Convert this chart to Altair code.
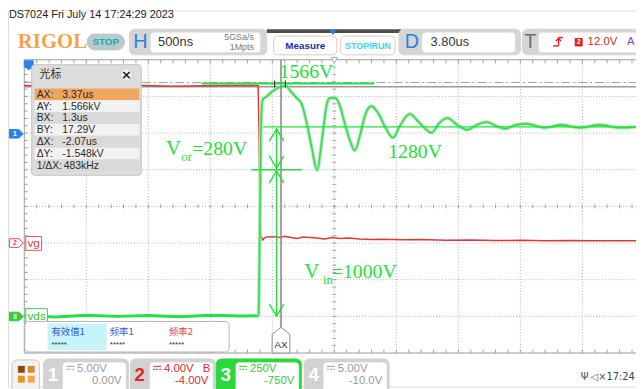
import altair as alt
import pandas as pd

# ---------------- scope settings ----------------
TIME_DIV_US = 0.5        # 500 ns/div
DELAY_US = 3.80          # time at screen centre
CH3_V_DIV = 250.0        # vds  250 V/div
CH3_OFFSET_V = -750.0
CH2_V_DIV = 4.0          # vg   4 V/div
CH2_OFFSET_V = -4.0
CURSOR_AX_US = 3.37
CURSOR_AY_V = 1566.0

# ---------------- traces (time in us, volts) ----------------
vds_t = [1.30, 1.55, 1.80, 2.05, 2.30, 2.55, 2.80, 3.05, 3.19,
         3.199, 3.207, 3.215, 3.223, 3.255, 3.302, 3.358, 3.414, 3.438,
         3.494, 3.534, 3.574, 3.615, 3.662, 3.701, 3.741, 3.765, 3.813,
         3.845, 3.892, 3.932, 3.964, 4.012, 4.051, 4.099, 4.154, 4.209,
         4.273, 4.328, 4.408, 4.487, 4.584, 4.648, 4.711, 4.791, 4.871,
         4.950, 5.030, 5.102, 5.181, 5.261, 5.349, 5.500, 5.627, 5.780,
         5.939, 6.101, 6.236]
vds_v = [5, -4, 8, 0, 6, -2, 7, 2, 4,
         600, 1200, 1430, 1480, 1500, 1535, 1562, 1569, 1545,
         1490, 1454, 1330, 1165, 997, 1212, 1454, 1490, 1488,
         1434, 1292, 1185, 1131, 1252, 1380, 1434, 1385, 1292,
         1218, 1299, 1380, 1320, 1252, 1320, 1353, 1306, 1272,
         1306, 1326, 1299, 1279, 1306, 1313, 1286, 1306, 1286,
         1306, 1286, 1292]
vg_t = [1.30, 1.70, 2.10, 2.50, 2.90, 3.185, 3.193, 3.199, 3.207, 3.223,
        3.24, 3.27, 3.30, 3.33, 3.36, 3.40, 3.45, 3.50, 3.55, 3.60,
        3.66, 3.72, 3.78, 3.85, 3.92, 4.00, 4.10, 4.20, 4.35, 4.50,
        4.70, 4.90, 5.10, 5.30, 5.50, 5.70, 5.90, 6.10, 6.24]
vg_v = [17.2, 17.1, 17.25, 17.1, 17.2, 17.2, 12.0, 4.0, 0.8, 0.35,
        0.6, 0.7, 0.65, 0.7, 0.6, 0.75, 0.6, 0.5, 0.65, 0.6,
        0.55, 0.45, 0.6, 0.5, 0.55, 0.45, 0.4, 0.42, 0.35, 0.38,
        0.3, 0.33, 0.28, 0.3, 0.25, 0.28, 0.25, 0.26, 0.25]

# annotation segments (t1 us, V1, t2 us, V2, width) on the vds scale
ann_segments = [
    (2.737, 1588, 4.114, 1588, 2.2),
    (3.231, 1292, 6.40, 1292, 1.4),
    (3.135, 1000, 3.534, 1000, 1.4),
    (3.334, 1279, 3.334, 1010, 1.4),
    (3.278, 1198, 3.334, 1279, 1.4), (3.334, 1279, 3.390, 1198, 1.4),
    (3.278, 1091, 3.334, 1010, 1.4), (3.334, 1010, 3.390, 1091, 1.4),
    (3.334, 993, 3.334, 0, 1.4),
    (3.278, 912, 3.334, 993, 1.4), (3.334, 993, 3.390, 912, 1.4),
    (3.278, 81, 3.334, 0, 1.4), (3.334, 0, 3.390, 81, 1.4),
]

CURSOR_LABELS = ["AX:", "AY:", "BX:", "BY:", "ΔX:", "ΔY:", "1/ΔX:"]
CURSOR_VALUES = ["3.37us", "1.566kV", "1.3us", "17.29V", "-2.07us", "-1.548kV", "483kHz"]
MEAS_NAMES = ["有效值1", "频率1", "频率2"]
MEAS_VALUES = ["*****", "*****", "*****"]
CH_NAMES = ["1", "2", "3", "4"]
CH_SCALE = ["5.00V", "4.00V", "250V", "5.00V"]
CH_OFFSET = ["0.00V", "-4.00V", "-750V", "-10.0V"]

# ---------------- layout ----------------
SANS = "Liberation Sans"
SERIF = "Liberation Serif"
CJK = "Noto Sans CJK SC"
GRID_X0, DIV_W = 24.5, 62.8
GRID_TOP, DIV_H = 58.0, 37.125
GRID_BOTTOM = GRID_TOP + 8 * DIV_H
SCREEN_R = 644
XC = GRID_X0 + 5 * DIV_W
YC = GRID_TOP + 4 * DIV_H
GREEN = "#22e03a"

XS = alt.Scale(domain=[8, 644], nice=False, zero=False)
YS = alt.Scale(domain=[8, 389], nice=False, zero=False, reverse=True)


def X(f):
    return alt.X(f"{f}:Q", scale=XS, axis=None)


def Y(f):
    return alt.Y(f"{f}:Q", scale=YS, axis=None)


def x_expr(f):
    return f"{XC} + (datum.{f} - {DELAY_US}) / {TIME_DIV_US} * {DIV_W}"


def y3_expr(f):
    return f"{YC} - (datum.{f} + {CH3_OFFSET_V}) / {CH3_V_DIV} * {DIV_H}"


def y2_expr(f):
    return f"{YC} - (datum.{f} + {CH2_OFFSET_V}) / {CH2_V_DIV} * {DIV_H}"


def rect_layer(rows, radius=0, sw=1):
    df = pd.DataFrame(rows, columns=["x", "x2", "y", "y2", "fill", "stroke"])
    return alt.Chart(df).mark_rect(cornerRadius=radius, strokeWidth=sw).encode(
        x=X("x"), x2="x2:Q", y=Y("y"), y2="y2:Q",
        fill=alt.Fill("fill:N", scale=None), stroke=alt.Stroke("stroke:N", scale=None))


def rule_layer(rows, dash=None, cap="butt"):
    df = pd.DataFrame(rows, columns=["x", "x2", "y", "y2", "color", "w"])
    kw = dict(strokeCap=cap)
    if dash:
        kw["strokeDash"] = dash
    return alt.Chart(df).mark_rule(**kw).encode(
        x=X("x"), x2="x2:Q", y=Y("y"), y2="y2:Q",
        color=alt.Color("color:N", scale=None),
        strokeWidth=alt.StrokeWidth("w:Q", scale=None))


def text_layer(rows, font=SANS, weight="normal", align="left", baseline="middle"):
    df = pd.DataFrame(rows, columns=["x", "y", "text", "color", "size"])
    return alt.Chart(df).mark_text(font=font, fontWeight=weight, align=align, baseline=baseline).encode(
        x=X("x"), y=Y("y"), text="text:N",
        color=alt.Color("color:N", scale=None), size=alt.Size("size:Q", scale=None))


def shape_layer(rows, path, sw=1):
    df = pd.DataFrame(rows, columns=["x", "y", "size", "fill", "stroke"])
    return alt.Chart(df).mark_point(shape=path, strokeWidth=sw, opacity=1, fillOpacity=1).encode(
        x=X("x"), y=Y("y"), size=alt.Size("size:Q", scale=None),
        fill=alt.Fill("fill:N", scale=None), stroke=alt.Stroke("stroke:N", scale=None))


layers = []

# ---- grid ----
grid = [(GRID_X0 + k * DIV_W, GRID_X0 + k * DIV_W, GRID_TOP, GRID_BOTTOM, "#b0b0b0", 1) for k in range(1, 10)]
grid += [(GRID_X0, SCREEN_R + 10, GRID_TOP + k * DIV_H, GRID_TOP + k * DIV_H, "#b0b0b0", 1) for k in range(1, 8)]
layers.append(rule_layer(grid, dash=[1, 2]))

TICK_C = "#a0a0a0"
ticks = []
mw, mh = DIV_W / 5, DIV_H / 5
for j in range(1, 60):
    x = GRID_X0 + j * mw
    if x > SCREEN_R + 2:
        break
    ticks.append((x, x, GRID_TOP, GRID_TOP + 3.5, TICK_C, 1))
    ticks.append((x, x, GRID_BOTTOM - 3.5, GRID_BOTTOM, TICK_C, 1))
    ticks.append((x, x, YC - 2, YC + 2, TICK_C, 1))
for j in range(1, 40):
    y = GRID_TOP + j * mh
    ticks.append((GRID_X0, GRID_X0 + 3.5, y, y, TICK_C, 1))
    ticks.append((XC - 2, XC + 2, y, y, TICK_C, 1))
border = [(GRID_X0, SCREEN_R + 10, GRID_TOP, GRID_TOP, "#9a9a9a", 1),
          (GRID_X0, GRID_X0, GRID_TOP, GRID_BOTTOM, "#9a9a9a", 1),
          (GRID_X0, SCREEN_R + 10, GRID_BOTTOM, GRID_BOTTOM, "#9a9a9a", 1)]
layers.append(rule_layer(ticks + border))

# ---- cursor AY line (solid) and dash-dot reference line ----
ay_df = pd.DataFrame({"v": [CURSOR_AY_V], "x": [GRID_X0], "x2": [SCREEN_R + 10]})
layers.append(alt.Chart(ay_df).transform_calculate(py=y3_expr("v")).mark_rule(
    color="#9a9a9a", strokeWidth=1.5).encode(x=X("x"), x2="x2:Q", y=Y("py")))
layers.append(rule_layer([(GRID_X0, SCREEN_R + 10, 81, 81, "#a0a0a0", 1)], dash=[9, 3, 2, 3]))

# ---- traces ----
vg_df = pd.DataFrame({"t": vg_t, "v": vg_v, "i": range(len(vg_t))})
layers.append(alt.Chart(vg_df).transform_calculate(px=x_expr("t"), py=y2_expr("v")).mark_line(
    color="#dc3a3a", strokeWidth=1.5).encode(x=X("px"), y=Y("py"), order="i:Q"))

vds_df = pd.DataFrame({"t": vds_t, "v": vds_v, "i": range(len(vds_t))})
vds_base = alt.Chart(vds_df).transform_calculate(px=x_expr("t"), py=y3_expr("v"))
layers.append(vds_base.transform_filter("datum.t <= 3.195").mark_line(
    color="#26de46", strokeWidth=3).encode(x=X("px"), y=Y("py"), order="i:Q"))
ring = vds_base.transform_filter("datum.t >= 3.19")
layers.append(ring.mark_line(color="#a4eeae", strokeWidth=3.6, interpolate="monotone").encode(
    x=X("px"), y=Y("py"), order="i:Q"))
layers.append(ring.mark_line(color="#3fd655", strokeWidth=1.6, interpolate="monotone").encode(
    x=X("px"), y=Y("py"), order="i:Q"))

# ---- AX cursor ----
ax_df = pd.DataFrame({"t": [CURSOR_AX_US], "y": [GRID_TOP], "y2": [330], "yl": [342], "ytx": [347]})
ax_base = alt.Chart(ax_df).transform_calculate(px=x_expr("t"))
layers.append(ax_base.mark_rule(color="#8c8c8c", strokeWidth=1.6).encode(x=X("px"), y=Y("y"), y2="y2:Q"))

# ---- annotations ----
ann_df = pd.DataFrame(ann_segments, columns=["t1", "v1", "t2", "v2", "w"])
layers.append(alt.Chart(ann_df).transform_calculate(
    px1=x_expr("t1"), px2=x_expr("t2"), py1=y3_expr("v1"), py2=y3_expr("v2")).mark_rule(
    color=GREEN, strokeCap="round").encode(
    x=X("px1"), x2="px2:Q", y=Y("py1"), y2="py2:Q", strokeWidth=alt.StrokeWidth("w:Q", scale=None)))
layers.append(rule_layer([(278, 278, 79, 86, "#333333", 1.2), (289, 289, 79, 86, "#333333", 1.2)]))

ann_text = [("1566V", 283, 70, GREEN, 20), ("1280V", 393, 151.5, GREEN, 20),
            ("V", 168, 148, GREEN, 21), ("=280V", 194.5, 148, GREEN, 20),
            ("V", 308, 273, GREEN, 21), ("=1000V", 336, 273, GREEN, 20)]
layers.append(text_layer([(x, y, t, c, s) for t, x, y, c, s in ann_text], font=SERIF))
sub_text = [("or", 183.5, 156.5, GREEN, 13), ("in", 327, 281, GREEN, 13)]
layers.append(text_layer([(x, y, t, c, s) for t, x, y, c, s in sub_text], font=SERIF))

# ---- AX label pentagon ----
PENT = "M-0.69,1L-0.69,-0.46L0,-1L0.69,-0.46L0.69,1Z"
layers.append(ax_base.mark_point(shape=PENT, size=676, fill="#ffffff", stroke="#8c8c8c",
                                 strokeWidth=1, opacity=1, fillOpacity=1).encode(x=X("px"), y=Y("yl")))
layers.append(ax_base.mark_text(font=SANS, fontSize=10, color="#333333", baseline="middle").encode(
    x=X("px"), y=Y("ytx"), text=alt.value("AX")))

# ---- channel labels and tags ----
layers.append(rect_layer([(26, 42, 237, 251, "#ffffff", "#e05a5a"),
                          (26, 48, 310, 326, "#ffffff", "#3ad24a")]))
layers.append(text_layer([(34, 244, "vg", "#e04040", 12), (37, 318, "vds", "#2bc63b", 12)], align="center"))
TAG = "M-1,-0.62L0.35,-0.62L1,0L0.35,0.62L-1,0.62Z"
layers.append(shape_layer([(16.5, 133, 196, "#2a84e6", "#2a84e6"),
                           (16.5, 243.6, 196, "#ffffff", "#e04848"),
                           (16.5, 318, 196, "#2ccf3c", "#2ccf3c")], TAG))
layers.append(text_layer([(15, 133.5, "1", "#ffffff", 7), (15, 244, "2", "#e04848", 7),
                          (15, 318.5, "3", "#ffffff", 7)], align="center", weight="bold"))
layers.append(shape_layer([(29, 63.5, 81, "#2a84e6", "#2a84e6")], "M-1,-1L1,-1L1,0.3L0,1L-1,0.3Z"))
layers.append(shape_layer([(XC, 58.5, 40, "#ffffff", "#7fb0e6")], "triangle-down"))

# ---- cursor panel ----
layers.append(rect_layer([(32, 143, 63, 175, "#dddddd", "#c4c4c4")], radius=3))
row_fill = ["#f0a65e", "#f2f2f2", "#dadada", "#f2f2f2", "#dadada", "#f2f2f2", "#dadada"]
layers.append(rect_layer([(35, 141, 87 + 12 * i, 99 + 12 * i, row_fill[i], row_fill[i])
                          for i in range(len(CURSOR_LABELS))], sw=0))
layers.append(text_layer([(40, 73.5, "光标", "#333333", 11)], font=CJK))
layers.append(shape_layer([(128, 73, 170, "#ededed", "#cfcfcf")], "circle"))
layers.append(text_layer([(128, 73.5, "×", "#1a1a1a", 13)], font="DejaVu Sans", weight="bold", align="center"))
cur_rows = [(37, 93.5 + 12 * i, lab, "#2a2a2a", 10.5) for i, lab in enumerate(CURSOR_LABELS)]
cur_rows += [(63 + (1.5 if i == 6 else 0), 93.5 + 12 * i, val, "#2a2a2a", 10.5) for i, val in enumerate(CURSOR_VALUES)]
layers.append(text_layer(cur_rows))

# ---- measurement panel ----
layers.append(rect_layer([(25, 232, 323, 354, "#ffffff", "#b4b4b4")], radius=4))
layers.append(rect_layer([(48, 108, 325, 352, "#c9f3fb", "#c9f3fb")], sw=0))
meas_x = [52, 111, 171]
meas_c = ["#2a52c8", "#3a5ad8", "#e04a4a"]
layers.append(text_layer([(meas_x[i], 333.5, MEAS_NAMES[i], meas_c[i], 9.5) for i in range(3)], font=CJK))
layers.append(text_layer([(meas_x[i], 346.5, MEAS_VALUES[i], "#333333", 8) for i in range(3)]))

# ---- header ----
layers.append(rect_layer([(270, 406, 27, 31, "#4c4c4c", "#4c4c4c")], sw=0))
layers.append(rect_layer([(131, 270, 27, 53, "#d5d5d5", "#d5d5d5"),
                          (404, 527, 27, 53, "#d5d5d5", "#d5d5d5"),
                          (529, 660, 27, 53, "#d5d5d5", "#d5d5d5")], radius=5))
layers.append(rect_layer([(152, 264, 30, 51, "#ffffff", "#e4d4cc"),
                          (427, 522, 30, 51, "#ffffff", "#e4d4cc"),
                          (545, 660, 30, 51, "#ffffff", "#e4d4cc"),
                          (277, 341, 34, 53, "#ffffff", "#dccabe"),
                          (345, 400, 34, 53, "#ffffff", "#dccabe")], radius=4))
layers.append(rect_layer([(88, 126, 32, 48, "#b8caca", "#b8caca")], radius=8))
layers.append(shape_layer([(337, 30, 30, "#2a84e6", "#2a84e6")], "triangle-down"))
layers.append(rect_layer([(582, 590, 36, 44.5, "#e01e1e", "#e01e1e")], sw=0))
layers.append(rule_layer([(560, 565.5, 44, 44, "#e01e1e", 1.4), (565.5, 565.5, 44, 35.5, "#e01e1e", 1.4),
                          (565.5, 570, 35.5, 35.5, "#e01e1e", 1.4), (563, 565.5, 39, 36.5, "#e01e1e", 1.4),
                          (568, 565.5, 39, 36.5, "#e01e1e", 1.4)]))
layers.append(text_layer([(9, 13, "DS7024  Fri July 14 17:24:29 2023", "#1e1e1e", 11),
                          (160, 40.5, "500ns", "#333333", 13),
                          (436, 40.5, "3.80us", "#333333", 13),
                          (595, 40.5, "12.0V", "#e01e1e", 11.5),
                          (635, 40.5, "A", "#8c3cdc", 11.5)]))
layers.append(text_layer([(257, 34.5, "5GSa/s", "#7a7a7a", 9), (257, 45, "1Mpts", "#7a7a7a", 9)], align="right"))
layers.append(text_layer([(142, 40.5, "H", "#1f86e0", 20), (417, 40.5, "D", "#1f86e0", 20),
                          (537, 40.5, "T", "#6e6e6e", 20)], align="center"))
layers.append(text_layer([(107, 40.5, "STOP", "#17a9b8", 10), (309, 44, "Measure", "#1b2ea8", 10),
                          (372.5, 44, "STOP/RUN", "#3ad6e6", 9), (586, 40.5, "2", "#ffffff", 7)],
                         weight="bold", align="center"))
layers.append(text_layer([(18, 40.5, "RIGOL", "#f3a24e", 21)], font=SERIF, weight="bold"))

# ---- bottom channel bar ----
layers.append(rect_layer([(12, 40, 362, 395, "#f2f2f2", "#c8c8c8")], radius=5))
layers.append(rect_layer([(18, 25, 368, 375, "#8c4a12", "#8c4a12"), (28, 35, 368, 375, "#d98a2c", "#d98a2c"),
                          (18, 25, 378, 385, "#e8922e", "#e8922e"), (28, 35, 378, 385, "#f0a848", "#f0a848")], sw=0))
CH_LEFT = [44, 132, 219, 308]
cell_fill = ["#d2d2d2", "#d2d2d2", "#2ad83c", "#d2d2d2"]
num_col = ["#ffffff", "#e0282a", "#ffffff", "#ffffff"]
txt_col = ["#9a9a9a", "#e0282a", "#36c846", "#9a9a9a"]
layers.append(rect_layer([(L, L + 86, 361, 395, cell_fill[i], cell_fill[i]) for i, L in enumerate(CH_LEFT)], radius=5))
layers.append(rect_layer([(L + 19, L + 84, 364, 395, "#ffffff", cell_fill[i]) for i, L in enumerate(CH_LEFT)], radius=4))
layers.append(text_layer([(L + 9.5, 377.5, CH_NAMES[i], num_col[i], 19) for i, L in enumerate(CH_LEFT)],
                         weight="bold", align="center"))
layers.append(rule_layer([(L + 23, L + 31, 368.5, 368.5, txt_col[i], 1) for i, L in enumerate(CH_LEFT)]))
layers.append(rule_layer([(L + 23, L + 31, 371.5, 371.5, txt_col[i], 1) for i, L in enumerate(CH_LEFT)], dash=[2, 1]))
layers.append(text_layer([(L + 34, 371, CH_SCALE[i], txt_col[i], 11.5) for i, L in enumerate(CH_LEFT)]))
layers.append(text_layer([(L + 79, 383.5, CH_OFFSET[i], txt_col[i], 11.5) for i, L in enumerate(CH_LEFT)]
                         + [(213, 371, "B", "#e0282a", 11.5)], align="right"))
layers.append(text_layer([(588, 379, "Ψ", "#555555", 10), (598, 379, "◁×", "#555555", 10),
                          (614, 379, "17:24", "#444444", 10)], font="DejaVu Sans"))

chart = alt.layer(*layers).properties(
    width=636, height=381, padding=0, autosize=alt.AutoSizeParams(type="none")
).configure_view(stroke=None).configure(background="#ffffff")

chart.save("out.html", embed_options={"renderer": "svg", "actions": False})
